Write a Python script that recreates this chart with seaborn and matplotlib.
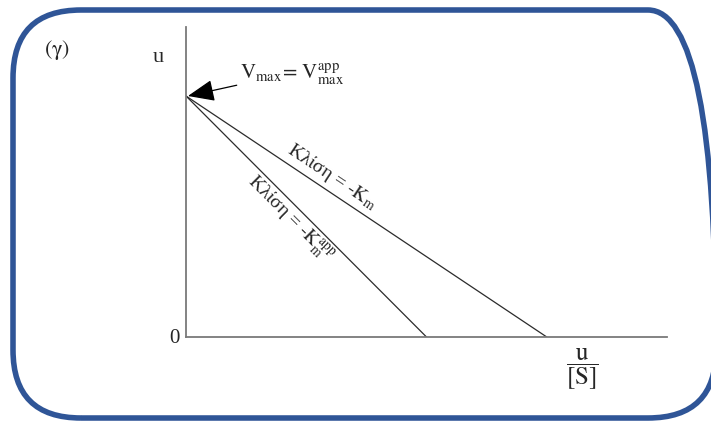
import numpy as np
import pandas as pd
import matplotlib
matplotlib.use("Agg")
import matplotlib.pyplot as plt
import seaborn as sns
from matplotlib.patches import FancyBboxPatch
from matplotlib.transforms import IdentityTransform

# Eadie-Hofstee plot: u versus u/[S]
vmax = 1.0                       # common intercept on the u axis
x_intercepts = [0.50, 0.75]      # Vmax/Km_app, Vmax/Km
series = ["app", "plain"]

sns.set_theme(style="white")
plt.rcParams["font.family"] = ["Liberation Serif", "DejaVu Serif"]
plt.rcParams["mathtext.fontset"] = "stix"

rows = []
for name, xi in zip(series, x_intercepts):
    rows.append({"series": name, "x": 0.0, "y": vmax})
    rows.append({"series": name, "x": xi, "y": 0.0})
df = pd.DataFrame(rows)

W, H, DPI = 711, 421, 100
fig = plt.figure(figsize=(W / DPI, H / DPI), dpi=DPI)
ax = fig.add_axes([186 / W, 1 - 337 / H, (667 - 186) / W, (337 - 27) / H])

sns.lineplot(data=df, x="x", y="y", units="series", estimator=None,
             color="#2b2b2b", linewidth=0.9, ax=ax, legend=False)

ax.set_xlim(0, 1.0)
ax.set_ylim(0, 1.2863)
ax.set_xticks([])
ax.set_yticks([])
ax.set_xlabel("")
ax.set_ylabel("")
for side in ["top", "right"]:
    ax.spines[side].set_visible(False)
for side in ["left", "bottom"]:
    ax.spines[side].set_color("#7a7a7a")
    ax.spines[side].set_linewidth(1.3)

fs = 15
ax.text(-0.058, 0.90, "u", transform=ax.transAxes, ha="center", va="center", fontsize=fs + 1)
ax.text(-0.025, -0.005, "0", transform=ax.transAxes, ha="center", va="center", fontsize=fs)
ax.text(0.823, -0.105, r"$\mathrm{\dfrac{u}{[S]}}$", transform=ax.transAxes,
        ha="center", va="center", fontsize=fs + 3)
fig.text(57 / W, 1 - 50 / H, r"$(\mathrm{\gamma})$", ha="center", va="center", fontsize=fs + 1)

ax.annotate(r"$\mathrm{V_{max}\!=\,V_{max}^{app}}$", xy=(0.004, vmax),
            xytext=(240 / W, 1 - 73 / H), textcoords="figure fraction",
            ha="left", va="center", fontsize=fs,
            arrowprops=dict(arrowstyle="-|>,head_length=1.1,head_width=0.45",
                            color="black", lw=0.9, shrinkA=0, shrinkB=0))

# slope labels, rotated along each line in screen space
ang_plain = -np.degrees(np.arctan(241 / 361))
ang_app = -45.0
ax.text(0.3035, 0.664, r"Κλίση = -$\mathrm{K_m}$", rotation=ang_plain,
        rotation_mode="anchor", ha="center", va="center", fontsize=fs - 1)
ax.text(0.214, 0.490, r"Κλίση = -$\mathrm{K_m^{app}}$", rotation=ang_app,
        rotation_mode="anchor", ha="center", va="center", fontsize=fs - 1)

# rounded frame around the panel
frame = FancyBboxPatch((13, 421 - 418), 703, 408,
                       boxstyle="round,pad=0,rounding_size=68",
                       transform=IdentityTransform(), fill=False,
                       edgecolor="#2f5597", linewidth=4.0, clip_on=False)
fig.add_artist(frame)

fig.savefig("out.png", dpi=DPI, facecolor="white")
